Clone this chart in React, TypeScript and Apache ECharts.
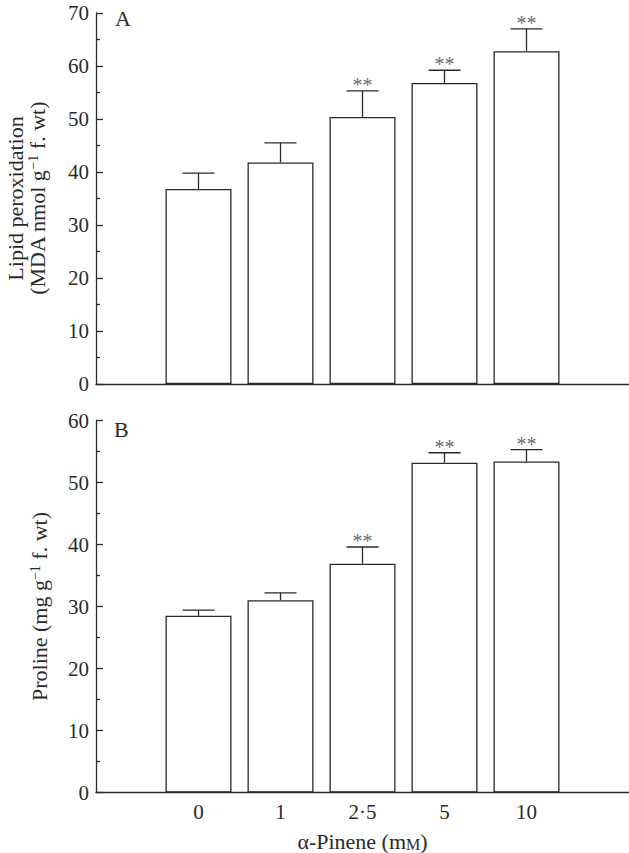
import React, { useEffect, useRef } from 'react';
import * as echarts from 'echarts';

// Categories (α-Pinene concentration, mM)
const categories = ['0', '1', '2·5', '5', '10'];

// Panel A: lipid peroxidation (MDA nmol g-1 f. wt)
const mdaMean = [36.8, 41.8, 50.4, 56.8, 62.8];
const mdaErr = [3.0, 3.7, 4.9, 2.4, 4.2];
const mdaSig = [false, false, true, true, true];

// Panel B: proline (mg g-1 f. wt)
const prolineMean = [28.5, 31.0, 36.9, 53.2, 53.4];
const prolineErr = [0.9, 1.2, 2.7, 1.6, 1.9];
const prolineSig = [false, false, true, true, true];

// Axis ticks
const yTicksA = { min: 0, max: 70, interval: 10 };
const yTicksB = { min: 0, max: 60, interval: 10 };

const FONT = 'Liberation Serif';
const INK = '#2a2a2a';
const LW = 1.3;

export default function App() {
  const ref = useRef<HTMLDivElement>(null);

  useEffect(() => {
    if (!ref.current) return;
    const chart = echarts.init(ref.current, null, { renderer: 'svg' });

    const barData = (vals: number[]) => vals.map((v, i) => [i, v]);
    const errData = (mean: number[], err: number[], sig: boolean[]) =>
      mean.map((m, i) => [i, m, m + err[i], sig[i] ? 1 : 0]);

    const renderErr = (_params: any, api: any) => {
      const x = api.value(0);
      const m = api.value(1);
      const t = api.value(2);
      const s = api.value(3);
      const p0 = api.coord([x, m]);
      const p1 = api.coord([x, t]);
      const children: any[] = [
        {
          type: 'line',
          shape: { x1: p0[0], y1: p0[1], x2: p1[0], y2: p1[1] },
          style: { stroke: INK, lineWidth: LW },
        },
        {
          type: 'line',
          shape: { x1: p1[0] - 16, y1: p1[1], x2: p1[0] + 16, y2: p1[1] },
          style: { stroke: INK, lineWidth: LW },
        },
      ];
      if (s) {
        children.push({
          type: 'text',
          x: p1[0],
          y: p1[1] - 6,
          style: {
            text: '**',
            fill: '#6a6a6a',
            fontSize: 20,
            fontFamily: FONT,
            align: 'center',
            verticalAlign: 'middle',
          },
        });
      }
      return { type: 'group', children };
    };

    const xAxisBase = (showLabels: boolean, gridIndex: number) => ({
      type: 'value',
      gridIndex,
      min: -1.25,
      max: 5.25,
      interval: 0.25,
      z: 5,
      splitLine: { show: false },
      axisTick: { show: false },
      axisLine: { show: true, onZero: false, lineStyle: { color: INK, width: LW } },
      axisLabel: {
        show: showLabels,
        margin: 9,
        fontSize: 21,
        fontFamily: FONT,
        color: INK,
        formatter: (v: number) =>
          Number.isInteger(v) && v >= 0 && v < categories.length ? categories[v] : '',
      },
    });

    const yAxisBase = (ticks: any, gridIndex: number, name: string, nameGap: number) => ({
      type: 'value',
      gridIndex,
      ...ticks,
      splitLine: { show: false },
      axisLine: { show: true, onZero: false, lineStyle: { color: INK, width: LW } },
      axisTick: { show: true, inside: true, length: 7, lineStyle: { color: INK, width: LW } },
      minorTick: { show: true, splitNumber: 2, length: 4, lineStyle: { color: INK, width: LW } },
      axisLabel: { margin: 7, fontSize: 21, fontFamily: FONT, color: INK },
      name,
      nameLocation: 'middle',
      nameGap,
      nameTextStyle: {
        fontSize: 22,
        fontFamily: FONT,
        color: INK,
        lineHeight: 22,
        rich: {
          sup: { fontSize: 14, fontFamily: FONT, color: INK, verticalAlign: 'top', lineHeight: 14 },
        },
      },
    });

    const barStyle = { color: '#ffffff', borderColor: INK, borderWidth: LW };

    chart.setOption({
      animation: false,
      backgroundColor: '#ffffff',
      grid: [
        { left: 96, right: 0, top: 13, height: 371, outerBoundsMode: 'none', containLabel: false },
        { left: 96, right: 0, top: 420.5, height: 372, outerBoundsMode: 'none', containLabel: false },
      ],
      xAxis: [
        xAxisBase(false, 0),
        {
          ...xAxisBase(true, 1),
          name: 'α-Pinene (m{sc|M})',
          nameLocation: 'middle',
          nameGap: 38,
          nameTextStyle: {
            fontSize: 22,
            fontFamily: FONT,
            color: INK,
            rich: { sc: { fontSize: 16, fontFamily: FONT, color: INK, verticalAlign: 'bottom' } },
          },
        },
      ],
      yAxis: [
        yAxisBase(yTicksA, 0, 'Lipid peroxidation\n(MDA nmol g{sup|−1} f. wt)', 48),
        yAxisBase(yTicksB, 1, 'Proline (mg g{sup|−1} f. wt)', 46),
      ],
      graphic: [
        { type: 'text', left: 115, top: 7, style: { text: 'A', fontSize: 22, fontFamily: FONT, fill: INK } },
        { type: 'text', left: 114, top: 418, style: { text: 'B', fontSize: 22, fontFamily: FONT, fill: INK } },
      ],
      series: [
        {
          type: 'bar',
          xAxisIndex: 0,
          yAxisIndex: 0,
          data: barData(mdaMean),
          barWidth: 66,
          itemStyle: barStyle,
        },
        {
          type: 'custom',
          xAxisIndex: 0,
          yAxisIndex: 0,
          data: errData(mdaMean, mdaErr, mdaSig),
          renderItem: renderErr,
          clip: false,
          z: 3,
        },
        {
          type: 'bar',
          xAxisIndex: 1,
          yAxisIndex: 1,
          data: barData(prolineMean),
          barWidth: 66,
          itemStyle: barStyle,
        },
        {
          type: 'custom',
          xAxisIndex: 1,
          yAxisIndex: 1,
          data: errData(prolineMean, prolineErr, prolineSig),
          renderItem: renderErr,
          clip: false,
          z: 3,
        },
      ],
    });

    return () => chart.dispose();
  }, []);

  return (
    <div
      ref={ref}
      style={{ position: 'fixed', left: 0, top: 0, width: 629, height: 853, background: '#fff' }}
    />
  );
}
